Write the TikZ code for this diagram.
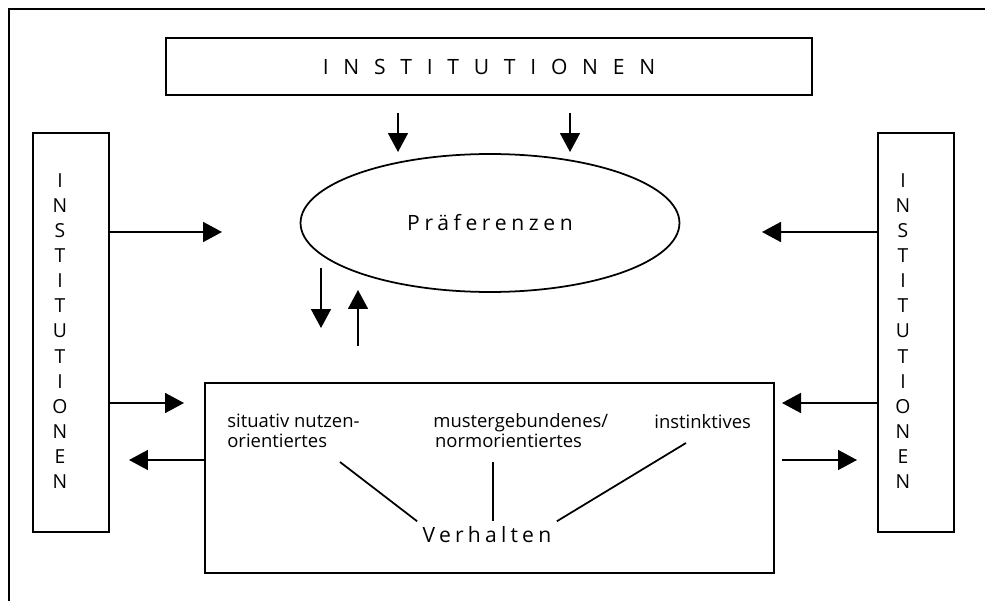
\documentclass[tikz,border=0pt]{standalone}
\usepackage{fontspec}
\setmainfont{Open Sans}
\usetikzlibrary{shapes.geometric,arrows.meta,positioning,calc}

\tikzset{
  box/.style={draw,line width=1pt,rectangle,inner sep=0pt},
  pfeil/.style={line width=1pt,-{Triangle[length=0.38cm,width=0.4cm]}},
  klein/.style={font=\fontsize{10.5}{11.3}\selectfont,inner sep=0pt,align=left},
  senkrecht/.style={font=\fontsize{11}{14.3}\selectfont,inner sep=0pt,align=center},
}

\begin{document}
\begin{tikzpicture}[x=0.02cm,y=-0.02cm]
\useasboundingbox (0,0) rectangle (985,601);
% Rahmen
\draw[line width=1.3pt] (985,9) -- (9,9) -- (9,601);
% Institutionen oben, links, rechts
\node[box,minimum width=12.92cm,minimum height=1.14cm,font=\fontsize{12}{14}\selectfont] (instO) at (489,66.5)
  {\addfontfeatures{LetterSpace=70}INSTITUTIONEN\hspace{4pt}};
\node[box,minimum width=1.52cm,minimum height=7.98cm] (instL) at (71,332.5) {};
\node[box,minimum width=1.52cm,minimum height=7.98cm] (instR) at (916,332.5) {};
\node[senkrecht] (instLtxt) at (60,331) {I\\N\\S\\T\\I\\T\\U\\T\\I\\O\\N\\E\\N};
\node[senkrecht] (instRtxt) at (903,331) {I\\N\\S\\T\\I\\T\\U\\T\\I\\O\\N\\E\\N};
% Praeferenzen
\node[draw,ellipse,line width=1pt,minimum width=7.58cm,minimum height=2.76cm,font=\fontsize{12}{14}\selectfont] (praef) at (490,223)
  {\addfontfeatures{LetterSpace=22}Präferenzen};
% Verhalten
\node[box,minimum width=11.38cm,minimum height=3.8cm] (verhBox) at (489.5,478) {};
\node[klein,anchor=north west] (situ) at (227,414) {situativ nutzen-\\orientiertes};
\node[klein,anchor=north west] (muster) at (433,413) {mustergebundenes/\\\hspace{1pt}normorientiertes};
\node[klein,anchor=north west] (instinkt) at (654,414) {instinktives};
\node[font=\fontsize{12}{14}\selectfont,inner sep=3pt] (verh) at (487,535)
  {\addfontfeatures{LetterSpace=20}Verhalten};
\coordinate (sitEnde) at (340,462);
\coordinate (musEnde) at (493,462);
\coordinate (insEnde) at (686,443);
\draw[line width=1pt] (sitEnde) -- (verh.north west);
\draw[line width=1pt] (musEnde) -- (verh.north -| musEnde);
\draw[line width=1pt] (insEnde) -- (verh.north east);
% Pfeile
\coordinate (zuP1) at (398,152);
\coordinate (zuP2) at (570,152);
\coordinate (zuP3) at (222,232);
\coordinate (zuP4) at (762,232);
\coordinate (abS) at (321,268);
\coordinate (abE) at (321,328);
\coordinate (aufS) at (358,346);
\coordinate (aufE) at (358,290);
\coordinate (zuV1) at (184,403);
\coordinate (vonV1) at (129,460);
\coordinate (zuV2) at (782,403);
\coordinate (vonV2) at (857,460);
\draw[pfeil,shorten <=0.34cm] (instO.south -| zuP1) -- (zuP1);
\draw[pfeil,shorten <=0.34cm] (instO.south -| zuP2) -- (zuP2);
\draw[pfeil] (instL.east |- zuP3) -- (zuP3);
\draw[pfeil] (instR.west |- zuP4) -- (zuP4);
\draw[pfeil] (abS) -- (abE);
\draw[pfeil] (aufS) -- (aufE);
\draw[pfeil] (instL.east |- zuV1) -- (zuV1);
\draw[pfeil] (verhBox.west |- vonV1) -- (vonV1);
\draw[pfeil] (instR.west |- zuV2) -- (zuV2);
\draw[pfeil,shorten <=0.14cm] (verhBox.east |- vonV2) -- (vonV2);
\end{tikzpicture}
\end{document}
